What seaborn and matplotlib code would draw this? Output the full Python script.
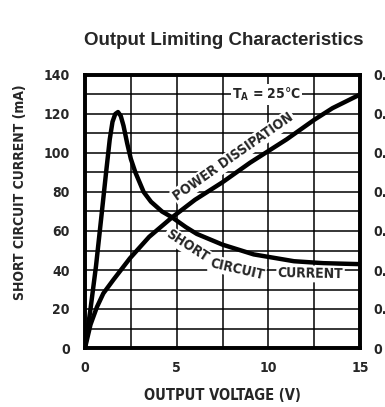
import numpy as np
import pandas as pd
import seaborn as sns
import matplotlib.pyplot as plt

sns.set_style('white')
plt.rcParams['font.family'] = ['DejaVu Sans']
plt.rcParams['font.stretch'] = 'condensed'
plt.rcParams['font.weight'] = 'bold'
plt.rcParams['axes.labelweight'] = 'bold'
plt.rcParams['mathtext.fontset'] = 'custom'
plt.rcParams['mathtext.rm'] = 'DejaVu Sans:bold:stretch=condensed'
plt.rcParams['mathtext.bf'] = 'DejaVu Sans:bold:stretch=condensed'

# short circuit current (mA) vs output voltage (V)
scc_v = [0, 0.3, 0.6, 0.9, 1.15, 1.35, 1.5, 1.65, 1.8, 1.95, 2.1, 2.3, 2.5, 2.75,
         3.2, 3.6, 4.2, 4.75, 5.5, 6.1, 7.5, 9.2, 11.4, 13.0, 15.0]
scc_ma = [0, 20, 42, 68, 90, 107, 116, 120, 121, 119, 114, 105, 97, 90,
          80, 75, 70, 67, 62, 58.5, 53, 48, 44.5, 43.5, 43]

# power dissipation (W) vs output voltage (V)
pd_v = [0, 0.3, 0.65, 1.0, 1.55, 2.45, 3.5, 4.75, 6.0, 7.5, 9.0, 10.0, 11.0, 12.5, 13.5, 15.0]
pd_w = [0, 0.060, 0.105, 0.140, 0.175, 0.230, 0.285, 0.335, 0.380, 0.425, 0.475,
        0.505, 0.535, 0.585, 0.615, 0.650]

x_ticks = [0, 5, 10, 15]
y_ticks = [0, 20, 40, 60, 80, 100, 120, 140]
w_ticks = [0, 0.1, 0.2, 0.3, 0.4, 0.5, 0.6, 0.7]
w_labels = ['0', '0.1', '0.2', '0.3', '0.4', '0.5', '0.6', '0.7']

df_scc = pd.DataFrame({'V': scc_v, 'I': scc_ma})
df_pd = pd.DataFrame({'V': pd_v, 'P': pd_w})

fig = plt.figure(figsize=(3.85, 4.07), dpi=100)
ax = fig.add_axes([85/385, 59/407, 275/385, 273/407])

ax.set_xlim(0, 15)
ax.set_ylim(0, 140)
ax.set_xticks(x_ticks)
ax.set_xticks([2.5, 7.5, 12.5], minor=True)
ax.set_yticks(y_ticks)
ax.set_yticks(np.arange(10, 140, 20), minor=True)
ax.grid(True, which='both', color='black', lw=1.1)
ax.tick_params(which='both', length=0, labelsize=10)
ax.tick_params(axis='x', pad=9)
ax.tick_params(axis='y', pad=11)

sns.lineplot(data=df_scc, x='V', y='I', ax=ax, color='black', lw=3.2,
             estimator=None, solid_joinstyle='round', solid_capstyle='round')

# right axis: power dissipation (W); the scan cuts its labels at the edge
ax2 = ax.twinx()
ax2.set_ylim(0, 0.7)
ax2.set_yticks(w_ticks)
ax2.set_yticklabels(w_labels)
ax2.tick_params(length=0, labelsize=10, pad=9.5)
sns.lineplot(data=df_pd, x='V', y='P', ax=ax2, color='black', lw=3.2,
             estimator=None, solid_joinstyle='round', solid_capstyle='round')
ax2.set_ylabel('')

for a in (ax, ax2):
    for s in a.spines.values():
        s.set_linewidth(2.6)
        s.set_color('black')

ax.set_xlabel('OUTPUT VOLTAGE (V)', fontsize=10.5, labelpad=10)
ax.set_ylabel('SHORT CIRCUIT CURRENT (mA)', fontsize=10)
ax.yaxis.set_label_coords(-0.21, 0.57)
fig.text(0.582, 0.9, 'Output Limiting Characteristics', ha='center', va='center',
         fontsize=13.5, fontweight='bold', family='Liberation Sans', stretch='normal')

box = dict(facecolor='white', edgecolor='none', pad=1)
ax.text(9.9, 130, r'$\mathbf{T_A}$ = 25°C', ha='center', va='center', fontsize=10, bbox=box)
ax.text(8.1, 98, 'POWER DISSIPATION', ha='center', va='center', fontsize=10,
        rotation=35, rotation_mode='anchor', bbox=box)
ax.text(5.57, 52.5, 'SHORT', ha='center', va='center', fontsize=10,
        rotation=-33, rotation_mode='anchor', bbox=box)
ax.text(8.3, 40.5, 'CIRCUIT', ha='center', va='center', fontsize=10,
        rotation=-13, rotation_mode='anchor', bbox=box)
ax.text(12.3, 38, 'CURRENT', ha='center', va='center', fontsize=10,
        rotation=-1, rotation_mode='anchor', bbox=box)

fig.savefig('out.png', dpi=100)
